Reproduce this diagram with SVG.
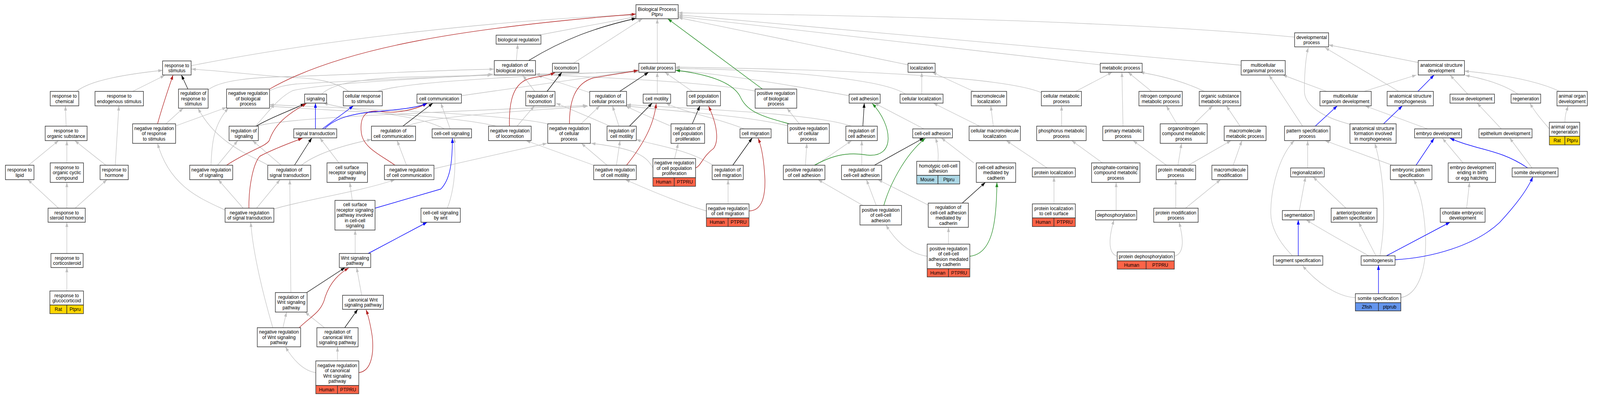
<svg xmlns="http://www.w3.org/2000/svg" width="4409" height="1019" viewBox="0 0 4409 1019">
<style>
.node rect{fill:#fff;stroke:#333;stroke-width:1.5}
.node rect.hu{fill:#ff6347}
.node rect.rat{fill:#ffd700}
.node rect.mo{fill:#add8e6}
.node rect.zf{fill:#6495ed}
text{font-family:"Liberation Sans",Arial,sans-serif;font-size:13px;fill:#000;text-anchor:middle}
.edges path{fill:none}
.g{stroke:#c0c0c0;stroke-width:1.3;marker-end:url(#ag)}
.k{stroke:#000;stroke-width:1.3;marker-end:url(#ak)}
.r{stroke:#b22222;stroke-width:1.4;marker-end:url(#ar)}
.gn{stroke:#228b22;stroke-width:1.4;marker-end:url(#agn)}
.b{stroke:#0000ff;stroke-width:1.4;marker-end:url(#ab)}
</style>
<defs>
<marker id="ag" viewBox="0 0 12 8" refX="12" refY="4" markerWidth="12" markerHeight="8" markerUnits="userSpaceOnUse" orient="auto"><path d="M0,0L12,4L0,8z" fill="#c0c0c0"/></marker>
<marker id="ak" viewBox="0 0 12 8" refX="12" refY="4" markerWidth="12" markerHeight="8" markerUnits="userSpaceOnUse" orient="auto"><path d="M0,0L12,4L0,8z" fill="#000"/></marker>
<marker id="ar" viewBox="0 0 12 8" refX="12" refY="4" markerWidth="12" markerHeight="8" markerUnits="userSpaceOnUse" orient="auto"><path d="M0,0L12,4L0,8z" fill="#b22222"/></marker>
<marker id="agn" viewBox="0 0 12 8" refX="12" refY="4" markerWidth="12" markerHeight="8" markerUnits="userSpaceOnUse" orient="auto"><path d="M0,0L12,4L0,8z" fill="#228b22"/></marker>
<marker id="ab" viewBox="0 0 12 8" refX="12" refY="4" markerWidth="12" markerHeight="8" markerUnits="userSpaceOnUse" orient="auto"><path d="M0,0L12,4L0,8z" fill="#0000ff"/></marker>
</defs>
<rect width="4409" height="1019" fill="#fff"/>
<g id="diagram" transform="scale(0.925,1)">
<g id="connectors" class="edges">
<path class="g" d="M212,234 C250,205 350,190 450,180"/>
<path class="g" d="M367,234 L456,193"/>
<path class="g" d="M183,323 L181,271"/>
<path class="g" d="M79,423 L162,360"/>
<path class="g" d="M185,417 L185,360"/>
<path class="g" d="M293,423 L207,360"/>
<path class="g" d="M319,423 L329,271"/>
<path class="g" d="M162,533 L77,460"/>
<path class="g" d="M185,533 L185,467"/>
<path class="g" d="M208,533 L296,460"/>
<path class="g" d="M185,649 L185,569"/>
<path class="g" d="M185,745 L185,685"/>
<path class="g" d="M530,168 C900,100 1400,50 1756,38"/>
<path class="g" d="M459,317 L507,277"/>
<path class="g" d="M487,322 L627,275"/>
<path class="g" d="M623,538 C560,510 470,480 436,367"/>
<path class="g" d="M576,230 C610,205 700,198 800,196 S1200,180 1367,177"/>
<path class="g" d="M965,234 C930,210 880,200 800,198 C700,192 600,180 530,177"/>
<path class="g" d="M746,232 C770,222 790,218 820,215 C1000,205 1250,197 1361,192"/>
<path class="g" d="M1520,318 C1400,290 900,275 746,268"/>
<path class="g" d="M1373,323 C1250,295 950,285 746,272"/>
<path class="g" d="M584,423 C586,370 590,320 632,277"/>
<path class="g" d="M707,323 C740,290 770,250 810,232 C900,212 1200,200 1364,190"/>
<path class="g" d="M742,423 C700,400 600,370 548,277"/>
<path class="g" d="M778,423 L699,360"/>
<path class="g" d="M602,423 L658,360"/>
<path class="g" d="M673,533 L604,460"/>
<path class="g" d="M710,533 L775,460"/>
<path class="g" d="M758,535 C850,510 1000,490 1093,460"/>
<path class="g" d="M755,839 C730,760 700,650 694,569"/>
<path class="g" d="M783,839 L793,799"/>
<path class="g" d="M805,749 L802,460"/>
<path class="g" d="M874,954 C840,950 810,920 790,888"/>
<path class="g" d="M934,924 L934,888"/>
<path class="g" d="M898,839 L844,799"/>
<path class="g" d="M1001,756 L987,685"/>
<path class="g" d="M983,649 L983,589"/>
<path class="g" d="M975,513 L968,467"/>
<path class="g" d="M1238,533 C1260,480 1262,420 1257,353"/>
<path class="g" d="M938,417 L885,353"/>
<path class="g" d="M1125,423 L1099,360"/>
<path class="g" d="M834,423 C880,390 960,370 1028,357"/>
<path class="g" d="M1201,432 C1350,400 1450,380 1514,367"/>
<path class="g" d="M1246,330 L1220,264"/>
<path class="g" d="M1230,330 C1150,290 1000,290 895,264"/>
<path class="g" d="M1277,245 L1768,180"/>
<path class="g" d="M1045,234 C1100,215 1300,200 1766,182"/>
<path class="g" d="M890,241 C920,215 980,205 1100,198 C1400,190 1600,186 1766,184"/>
<path class="g" d="M709,323 C800,300 1200,288 1625,270"/>
<path class="g" d="M1125,323 C1200,295 1450,285 1627,272"/>
<path class="g" d="M1480,234 L1447,193"/>
<path class="g" d="M1632,237 L1488,193"/>
<path class="g" d="M1713,323 L1695,271"/>
<path class="g" d="M1608,317 L1660,271"/>
<path class="g" d="M1431,323 L1479,271"/>
<path class="g" d="M1689,323 L1539,264"/>
<path class="g" d="M1643,423 L1456,360"/>
<path class="g" d="M1680,423 L1609,367"/>
<path class="g" d="M1706,423 L1716,360"/>
<path class="g" d="M1973,423 C1900,380 1800,370 1761,357"/>
<path class="g" d="M1807,430 C1790,400 1760,380 1636,367"/>
<path class="g" d="M1955,540 C1880,520 1780,480 1731,460"/>
<path class="g" d="M2060,330 C1980,300 1900,290 1843,264"/>
<path class="g" d="M1819,241 L1819,185"/>
<path class="g" d="M1916,234 L1840,185"/>
<path class="g" d="M1857,323 C1800,300 1760,285 1731,271"/>
<path class="g" d="M1867,406 L1877,367"/>
<path class="g" d="M2015,522 L2015,460"/>
<path class="g" d="M2090,233 C1950,210 1700,200 1482,190"/>
<path class="g" d="M2212,317 L2178,277"/>
<path class="g" d="M2180,322 C2050,293 1850,285 1734,271"/>
<path class="g" d="M2229,423 L2233,367"/>
<path class="g" d="M2258,423 L2357,360"/>
<path class="g" d="M2357,323 C2250,290 1950,280 1734,268"/>
<path class="g" d="M2350,245 C2200,220 2000,190 1869,180"/>
<path class="g" d="M2551,241 L2551,185"/>
<path class="g" d="M2506,241 C2450,205 2200,180 1869,175"/>
<path class="g" d="M2695,234 L2580,185"/>
<path class="g" d="M2749,323 L2742,271"/>
<path class="g" d="M2711,323 L2583,264"/>
<path class="g" d="M2557,330 L2420,264"/>
<path class="g" d="M2385,423 L2385,360"/>
<path class="g" d="M2596,413 C2598,390 2595,370 2589,353"/>
<path class="g" d="M2695,417 L2605,353"/>
<path class="g" d="M2388,526 L2264,460"/>
<path class="g" d="M2425,526 L2398,460"/>
<path class="g" d="M2569,525 L2430,460"/>
<path class="g" d="M2625,625 L2625,582"/>
<path class="g" d="M2566,656 C2520,650 2480,620 2452,576"/>
<path class="g" d="M2898,430 L2785,360"/>
<path class="g" d="M2917,522 L2917,453"/>
<path class="g" d="M2977,234 L3078,185"/>
<path class="g" d="M2882,237 C2800,205 2500,180 1869,172"/>
<path class="g" d="M3108,323 L3105,185"/>
<path class="g" d="M3187,234 L3122,185"/>
<path class="g" d="M3333,234 C3280,210 3220,195 3155,185"/>
<path class="g" d="M2938,323 L2938,271"/>
<path class="g" d="M3257,317 L3228,271"/>
<path class="g" d="M3305,317 L3356,271"/>
<path class="g" d="M3432,323 L3394,271"/>
<path class="g" d="M3051,417 L2966,360"/>
<path class="g" d="M3228,423 L3136,360"/>
<path class="g" d="M3260,423 L3270,367"/>
<path class="g" d="M3289,423 L3407,360"/>
<path class="g" d="M3413,423 L3437,360"/>
<path class="g" d="M3089,539 L3089,467"/>
<path class="g" d="M3254,533 L3254,460"/>
<path class="g" d="M3281,533 L3378,460"/>
<path class="g" d="M3092,656 C3070,650 3065,620 3083,563"/>
<path class="g" d="M3250,656 C3275,650 3278,620 3263,569"/>
<path class="g" d="M3605,323 L3512,192"/>
<path class="g" d="M3672,234 L3550,192"/>
<path class="g" d="M3775,234 L3920,192"/>
<path class="g" d="M3871,234 L3667,122"/>
<path class="g" d="M3925,160 L3677,115"/>
<path class="g" d="M3736,318 C3660,300 3610,270 3610,233 C3610,180 3615,140 3621,122"/>
<path class="g" d="M4062,241 L4013,192"/>
<path class="g" d="M4201,241 C4160,215 4100,200 4055,193"/>
<path class="g" d="M4317,234 C4250,205 4150,190 4053,182"/>
<path class="g" d="M4155,330 L4088,264"/>
<path class="g" d="M4288,330 C4270,310 4250,290 4234,264"/>
<path class="g" d="M4331,313 C4331,295 4335,285 4340,271"/>
<path class="g" d="M3951,330 L3778,271"/>
<path class="g" d="M3853,423 L3667,360"/>
<path class="g" d="M4049,417 L3992,354"/>
<path class="g" d="M4240,430 L4178,353"/>
<path class="g" d="M3619,430 L3619,360"/>
<path class="g" d="M3725,533 L3634,453"/>
<path class="g" d="M3596,539 L3613,453"/>
<path class="g" d="M3577,655 C3540,620 3515,580 3517,540 C3518,480 3540,400 3582,360"/>
<path class="g" d="M3788,655 C3740,630 3680,600 3615,563"/>
<path class="g" d="M3808,655 L3760,569"/>
<path class="g" d="M3819,655 C3830,600 3840,480 3805,367"/>
<path class="g" d="M3751,762 C3700,760 3640,720 3605,680"/>
<path class="g" d="M3877,762 C3920,755 3950,700 3945,600 C3940,520 3925,480 3912,460"/>
<path class="g" d="M4059,533 L4067,467"/>
<path class="g" d="M2513,166 L1877,45"/>
<path class="g" d="M3045,166 L1877,42"/>
<path class="g" d="M3435,167 L1877,38"/>
<path class="g" d="M3583,95 C3300,70 2800,45 1877,33"/>
<path class="g" d="M1490,90 L1760,43"/>
<path class="g" d="M1587,162 L1778,48"/>
<path class="g" d="M1819,162 L1819,48"/>
<path class="g" d="M1429,155 L1433,113"/>
<path class="k" d="M520,228 L502,192"/>
<path class="k" d="M709,323 C750,300 800,285 844,265"/>
<path class="k" d="M815,423 L863,353"/>
<path class="k" d="M1463,155 C1560,100 1650,70 1760,47"/>
<path class="k" d="M1514,234 L1555,185"/>
<path class="k" d="M1715,234 L1795,185"/>
<path class="k" d="M1115,323 L1198,264"/>
<path class="k" d="M1742,323 L1805,264"/>
<path class="k" d="M1916,317 L1937,271"/>
<path class="k" d="M2028,423 L2082,353"/>
<path class="k" d="M2388,323 L2392,264"/>
<path class="k" d="M2420,423 L2557,353"/>
<path class="k" d="M2663,520 L2727,467"/>
<path class="k" d="M849,749 L955,685"/>
<path class="k" d="M954,839 L990,792"/>
<path class="r" d="M436,317 C450,270 465,230 479,192"/>
<path class="r" d="M746,228 C950,120 1300,70 1760,36"/>
<path class="r" d="M627,423 C690,385 735,375 745,360 C760,320 790,295 848,265"/>
<path class="r" d="M689,533 C688,480 700,420 719,400 C750,385 790,370 837,354"/>
<path class="r" d="M1410,323 C1408,260 1420,210 1470,200 C1500,195 1520,192 1536,186"/>
<path class="r" d="M1576,317 C1576,260 1590,215 1640,200 C1700,190 1740,185 1766,180"/>
<path class="r" d="M1093,423 C1060,400 1005,380 1000,340 C995,300 1010,280 1050,285 C1100,292 1150,280 1182,265"/>
<path class="r" d="M1734,423 C1780,370 1810,320 1816,265"/>
<path class="r" d="M1925,430 C1940,425 1945,400 1975,380 C1990,360 1985,320 1961,272"/>
<path class="r" d="M2073,540 C2110,540 2118,500 2117,460 C2115,420 2110,380 2098,354"/>
<path class="r" d="M828,839 C860,810 890,800 900,760 C915,720 940,700 965,686"/>
<path class="r" d="M993,954 C1030,950 1035,900 1030,860 C1025,830 1020,810 1013,793"/>
<path class="gn" d="M2110,228 L1848,48"/>
<path class="gn" d="M2184,317 C2120,300 2070,290 2050,250 C2030,210 1960,190 1870,180"/>
<path class="gn" d="M2254,423 C2300,400 2340,388 2400,397 C2480,405 2470,320 2414,265"/>
<path class="gn" d="M2446,526 C2460,480 2500,400 2561,354"/>
<path class="gn" d="M2684,656 C2750,650 2758,560 2759,467"/>
<path class="b" d="M873,330 L873,264"/>
<path class="b" d="M892,330 L978,271"/>
<path class="b" d="M898,330 C930,300 980,290 1050,285 C1110,280 1160,275 1182,264"/>
<path class="b" d="M1038,533 L1220,484 C1245,460 1252,420 1252,354"/>
<path class="b" d="M1019,649 L1182,569"/>
<path class="b" d="M3640,323 L3701,271"/>
<path class="b" d="M3924,234 L3969,192"/>
<path class="b" d="M3829,317 L3881,271"/>
<path class="b" d="M3919,423 L3969,354"/>
<path class="b" d="M4228,430 C4180,400 4140,390 4090,378 C4060,370 4040,365 4013,354"/>
<path class="b" d="M3861,665 C3960,660 4080,630 4150,570 C4200,520 4230,480 4242,453"/>
<path class="b" d="M3837,655 L4013,569"/>
<path class="b" d="M3815,752 L3815,679"/>
<path class="b" d="M3593,655 L3593,563"/>
</g>
<g id="n-bio" class="node"><rect x="1760" y="12" width="117" height="36"/><text x="1818.5" y="27.75">Biological Process</text><text x="1818.5" y="41.25">Ptpru</text></g>
<g id="n-bioreg" class="node"><rect x="1373" y="90" width="124" height="23"/><text x="1435" y="106">biological regulation</text></g>
<g id="n-devproc" class="node"><rect x="3583" y="84" width="94" height="36"/><text x="3630" y="99.75">developmental</text><text x="3630" y="113.25">process</text></g>
<g id="n-stim" class="node"><rect x="450" y="156" width="79" height="36"/><text x="489.5" y="171.75">response to</text><text x="489.5" y="185.25">stimulus</text></g>
<g id="n-regbio" class="node"><rect x="1368" y="155" width="114" height="37"/><text x="1425" y="171.25">regulation of</text><text x="1425" y="184.75">biological process</text></g>
<g id="n-loco" class="node"><rect x="1529" y="162" width="73" height="23"/><text x="1565.5" y="178">locomotion</text></g>
<g id="n-cellproc" class="node"><rect x="1768" y="162" width="101" height="23"/><text x="1818.5" y="178">cellular process</text></g>
<g id="n-loc" class="node"><rect x="2513" y="162" width="75" height="23"/><text x="2550.5" y="178">localization</text></g>
<g id="n-met" class="node"><rect x="3045" y="162" width="116" height="23"/><text x="3103" y="178">metabolic process</text></g>
<g id="n-multiorgproc" class="node"><rect x="3435" y="155" width="122" height="37"/><text x="3496" y="171.25">multicellular</text><text x="3496" y="184.75">organismal process</text></g>
<g id="n-anatdev" class="node"><rect x="3925" y="155" width="128" height="37"/><text x="3989" y="171.25">anatomical structure</text><text x="3989" y="184.75">development</text></g>
<g id="n-chem" class="node"><rect x="139" y="234" width="79" height="37"/><text x="178.5" y="250.25">response to</text><text x="178.5" y="263.75">chemical</text></g>
<g id="n-endo" class="node"><rect x="263" y="234" width="134" height="37"/><text x="330" y="250.25">response to</text><text x="330" y="263.75">endogenous stimulus</text></g>
<g id="n-regresp" class="node"><rect x="494" y="228" width="82" height="49"/><text x="535" y="243.5">regulation of</text><text x="535" y="257">response to</text><text x="535" y="270.5">stimulus</text></g>
<g id="n-negregbio" class="node"><rect x="627" y="228" width="119" height="49"/><text x="686.5" y="243.5">negative regulation</text><text x="686.5" y="257">of biological</text><text x="686.5" y="270.5">process</text></g>
<g id="n-signaling" class="node"><rect x="843" y="241" width="61" height="23"/><text x="873.5" y="257">signaling</text></g>
<g id="n-cellresp" class="node"><rect x="950" y="234" width="108" height="37"/><text x="1004" y="250.25">cellular response</text><text x="1004" y="263.75">to stimulus</text></g>
<g id="n-cellcomm" class="node"><rect x="1154" y="241" width="123" height="23"/><text x="1215.5" y="257">cell communication</text></g>
<g id="n-regloco" class="node"><rect x="1455" y="234" width="81" height="37"/><text x="1495.5" y="250.25">regulation of</text><text x="1495.5" y="263.75">locomotion</text></g>
<g id="n-regcellproc" class="node"><rect x="1632" y="234" width="102" height="37"/><text x="1683" y="250.25">regulation of</text><text x="1683" y="263.75">cellular process</text></g>
<g id="n-cellmot" class="node"><rect x="1780" y="241" width="76" height="23"/><text x="1818" y="257">cell motility</text></g>
<g id="n-prolif" class="node"><rect x="1901" y="234" width="93" height="37"/><text x="1947.5" y="250.25">cell population</text><text x="1947.5" y="263.75">proliferation</text></g>
<g id="n-posregbio" class="node"><rect x="2090" y="228" width="115" height="49"/><text x="2147.5" y="243.5">positive regulation</text><text x="2147.5" y="257">of biological</text><text x="2147.5" y="270.5">process</text></g>
<g id="n-celladh" class="node"><rect x="2350" y="241" width="86" height="23"/><text x="2393" y="257">cell adhesion</text></g>
<g id="n-celloc" class="node"><rect x="2491" y="241" width="119" height="23"/><text x="2550.5" y="257">cellular localization</text></g>
<g id="n-macroloc" class="node"><rect x="2688" y="234" width="98" height="37"/><text x="2737" y="250.25">macromolecule</text><text x="2737" y="263.75">localization</text></g>
<g id="n-cellmet" class="node"><rect x="2882" y="234" width="111" height="37"/><text x="2937.5" y="250.25">cellular metabolic</text><text x="2937.5" y="263.75">process</text></g>
<g id="n-nitrogen" class="node"><rect x="3152" y="234" width="120" height="37"/><text x="3212" y="250.25">nitrogen compound</text><text x="3212" y="263.75">metabolic process</text></g>
<g id="n-orgsubmet" class="node"><rect x="3319" y="234" width="115" height="37"/><text x="3376.5" y="250.25">organic substance</text><text x="3376.5" y="263.75">metabolic process</text></g>
<g id="n-multidev" class="node"><rect x="3653" y="234" width="142" height="37"/><text x="3724" y="250.25">multicellular</text><text x="3724" y="263.75">organism development</text></g>
<g id="n-anatmorph" class="node"><rect x="3839" y="234" width="128" height="37"/><text x="3903" y="250.25">anatomical structure</text><text x="3903" y="263.75">morphogenesis</text></g>
<g id="n-tissue" class="node"><rect x="4013" y="241" width="123" height="23"/><text x="4074.5" y="257">tissue development</text></g>
<g id="n-regen" class="node"><rect x="4182" y="241" width="82" height="23"/><text x="4223" y="257">regeneration</text></g>
<g id="n-animaldev" class="node"><rect x="4309" y="234" width="84" height="37"/><text x="4351" y="250.25">animal organ</text><text x="4351" y="263.75">development</text></g>
<g id="n-orgsub" class="node"><rect x="125" y="323" width="116" height="37"/><text x="183" y="339.25">response to</text><text x="183" y="352.75">organic substance</text></g>
<g id="n-negregresp" class="node"><rect x="367" y="317" width="119" height="50"/><text x="426.5" y="333">negative regulation</text><text x="426.5" y="346.5">of response</text><text x="426.5" y="360">to stimulus</text></g>
<g id="n-regsig" class="node"><rect x="634" y="323" width="81" height="37"/><text x="674.5" y="339.25">regulation of</text><text x="674.5" y="352.75">signaling</text></g>
<g id="n-sigtrans" class="node"><rect x="813" y="330" width="119" height="23"/><text x="872.5" y="346">signal transduction</text></g>
<g id="n-regcellcomm" class="node"><rect x="1028" y="323" width="122" height="37"/><text x="1089" y="339.25">regulation of</text><text x="1089" y="352.75">cell communication</text></g>
<g id="n-ccsig" class="node"><rect x="1196" y="330" width="109" height="23"/><text x="1250.5" y="346">cell-cell signaling</text></g>
<g id="n-negregloco" class="node"><rect x="1352" y="323" width="118" height="37"/><text x="1411" y="339.25">negative regulation</text><text x="1411" y="352.75">of locomotion</text></g>
<g id="n-negregcell" class="node"><rect x="1516" y="317" width="118" height="50"/><text x="1575" y="333">negative regulation</text><text x="1575" y="346.5">of cellular</text><text x="1575" y="360">process</text></g>
<g id="n-regcellmot" class="node"><rect x="1680" y="323" width="81" height="37"/><text x="1720.5" y="339.25">regulation of</text><text x="1720.5" y="352.75">cell motility</text></g>
<g id="n-regprolif" class="node"><rect x="1857" y="317" width="93" height="50"/><text x="1903.5" y="333">regulation of</text><text x="1903.5" y="346.5">cell population</text><text x="1903.5" y="360">proliferation</text></g>
<g id="n-cellmig" class="node"><rect x="2048" y="330" width="86" height="23"/><text x="2091" y="346">cell migration</text></g>
<g id="n-posregcell" class="node"><rect x="2180" y="317" width="115" height="50"/><text x="2237.5" y="333">positive regulation</text><text x="2237.5" y="346.5">of cellular</text><text x="2237.5" y="360">process</text></g>
<g id="n-regadh" class="node"><rect x="2341" y="323" width="87" height="37"/><text x="2384.5" y="339.25">regulation of</text><text x="2384.5" y="352.75">cell adhesion</text></g>
<g id="n-ccadh" class="node"><rect x="2526" y="330" width="110" height="23"/><text x="2581" y="346">cell-cell adhesion</text></g>
<g id="n-cellmacroloc" class="node"><rect x="2682" y="323" width="142" height="37"/><text x="2753" y="339.25">cellular macromolecule</text><text x="2753" y="352.75">localization</text></g>
<g id="n-phosphorus" class="node"><rect x="2869" y="323" width="137" height="37"/><text x="2937.5" y="339.25">phosphorus metabolic</text><text x="2937.5" y="352.75">process</text></g>
<g id="n-primary" class="node"><rect x="3052" y="323" width="113" height="37"/><text x="3108.5" y="339.25">primary metabolic</text><text x="3108.5" y="352.75">process</text></g>
<g id="n-organonit" class="node"><rect x="3211" y="317" width="130" height="50"/><text x="3276" y="333">organonitrogen</text><text x="3276" y="346.5">compound metabolic</text><text x="3276" y="360">process</text></g>
<g id="n-macromet" class="node"><rect x="3388" y="323" width="116" height="37"/><text x="3446" y="339.25">macromolecule</text><text x="3446" y="352.75">metabolic process</text></g>
<g id="n-patspec" class="node"><rect x="3555" y="323" width="126" height="37"/><text x="3618" y="339.25">pattern specification</text><text x="3618" y="352.75">process</text></g>
<g id="n-anatform" class="node"><rect x="3736" y="317" width="128" height="50"/><text x="3800" y="333">anatomical structure</text><text x="3800" y="346.5">formation involved</text><text x="3800" y="360">in morphogenesis</text></g>
<g id="n-embdev" class="node"><rect x="3915" y="330" width="130" height="23"/><text x="3980" y="346">embryo development</text></g>
<g id="n-epith" class="node"><rect x="4093" y="330" width="147" height="23"/><text x="4166.5" y="346">epithelium development</text></g>
<g id="n-animalregen" class="node"><rect x="4288" y="313" width="84" height="36"/><text x="4330" y="328.75">animal organ</text><text x="4330" y="342.25">regeneration</text><rect class="rat" x="4288" y="349" width="43" height="22"/><rect class="rat" x="4331" y="349" width="41" height="22"/><text x="4309.5" y="364.5">Rat</text><text x="4351.5" y="364.5">Ptpru</text></g>
<g id="n-lipid" class="node"><rect x="15" y="423" width="79" height="37"/><text x="54.5" y="439.25">response to</text><text x="54.5" y="452.75">lipid</text></g>
<g id="n-cyclic" class="node"><rect x="139" y="417" width="92" height="50"/><text x="185" y="433">response to</text><text x="185" y="446.5">organic cyclic</text><text x="185" y="460">compound</text></g>
<g id="n-hormone" class="node"><rect x="277" y="423" width="78" height="37"/><text x="316" y="439.25">response to</text><text x="316" y="452.75">hormone</text></g>
<g id="n-negregsig" class="node"><rect x="525" y="423" width="119" height="37"/><text x="584.5" y="439.25">negative regulation</text><text x="584.5" y="452.75">of signaling</text></g>
<g id="n-regsigtrans" class="node"><rect x="741" y="423" width="119" height="37"/><text x="800.5" y="439.25">regulation of</text><text x="800.5" y="452.75">signal transduction</text></g>
<g id="n-csrsp" class="node"><rect x="905" y="417" width="112" height="50"/><text x="961" y="433">cell surface</text><text x="961" y="446.5">receptor signaling</text><text x="961" y="460">pathway</text></g>
<g id="n-negregcellcomm" class="node"><rect x="1064" y="423" width="137" height="37"/><text x="1132.5" y="439.25">negative regulation</text><text x="1132.5" y="452.75">of cell communication</text></g>
<g id="n-negregmot" class="node"><rect x="1643" y="423" width="118" height="37"/><text x="1702" y="439.25">negative regulation</text><text x="1702" y="452.75">of cell motility</text></g>
<g id="n-negregprolif" class="node"><rect x="1807" y="406" width="118" height="49"/><text x="1866" y="421.5">negative regulation</text><text x="1866" y="435">of cell population</text><text x="1866" y="448.5">proliferation</text><rect class="hu" x="1807" y="455" width="59" height="22"/><rect class="hu" x="1866" y="455" width="59" height="22"/><text x="1836.5" y="470.5">Human</text><text x="1895.5" y="470.5">PTPRU</text></g>
<g id="n-regcellmig" class="node"><rect x="1971" y="423" width="86" height="37"/><text x="2014" y="439.25">regulation of</text><text x="2014" y="452.75">cell migration</text></g>
<g id="n-posregadh" class="node"><rect x="2168" y="423" width="115" height="37"/><text x="2225.5" y="439.25">positive regulation</text><text x="2225.5" y="452.75">of cell adhesion</text></g>
<g id="n-regccadh" class="node"><rect x="2329" y="423" width="111" height="37"/><text x="2384.5" y="439.25">regulation of</text><text x="2384.5" y="452.75">cell-cell adhesion</text></g>
<g id="n-homotypic" class="node"><rect x="2537" y="413" width="119" height="36"/><text x="2596.5" y="428.75">homotypic cell-cell</text><text x="2596.5" y="442.25">adhesion</text><rect class="mo" x="2537" y="449" width="59" height="22"/><rect class="mo" x="2596" y="449" width="60" height="22"/><text x="2566.5" y="464.5">Mouse</text><text x="2626" y="464.5">Ptpru</text></g>
<g id="n-cadherin" class="node"><rect x="2702" y="417" width="109" height="50"/><text x="2756.5" y="433">cell-cell adhesion</text><text x="2756.5" y="446.5">mediated by</text><text x="2756.5" y="460">cadherin</text></g>
<g id="n-protloc" class="node"><rect x="2857" y="430" width="119" height="23"/><text x="2916.5" y="446">protein localization</text></g>
<g id="n-phosphate" class="node"><rect x="3021" y="417" width="134" height="50"/><text x="3088" y="433">phosphate-containing</text><text x="3088" y="446.5">compound metabolic</text><text x="3088" y="460">process</text></g>
<g id="n-protmet" class="node"><rect x="3200" y="423" width="109" height="37"/><text x="3254.5" y="439.25">protein metabolic</text><text x="3254.5" y="452.75">process</text></g>
<g id="n-macromod" class="node"><rect x="3354" y="423" width="99" height="37"/><text x="3403.5" y="439.25">macromolecule</text><text x="3403.5" y="452.75">modification</text></g>
<g id="n-regional" class="node"><rect x="3572" y="430" width="93" height="23"/><text x="3618.5" y="446">regionalization</text></g>
<g id="n-embpat" class="node"><rect x="3848" y="423" width="115" height="37"/><text x="3905.5" y="439.25">embryonic pattern</text><text x="3905.5" y="452.75">specification</text></g>
<g id="n-embbirth" class="node"><rect x="4008" y="417" width="131" height="50"/><text x="4073.5" y="433">embryo development</text><text x="4073.5" y="446.5">ending in birth</text><text x="4073.5" y="460">or egg hatching</text></g>
<g id="n-somdev" class="node"><rect x="4185" y="430" width="127" height="23"/><text x="4248.5" y="446">somite development</text></g>
<g id="n-steroid" class="node"><rect x="133" y="533" width="103" height="36"/><text x="184.5" y="548.75">response to</text><text x="184.5" y="562.25">steroid hormone</text></g>
<g id="n-negregsigtrans" class="node"><rect x="623" y="533" width="135" height="36"/><text x="690.5" y="548.75">negative regulation</text><text x="690.5" y="562.25">of signal transduction</text></g>
<g id="n-csrspcc" class="node"><rect x="927" y="513" width="111" height="76"/><text x="982.5" y="528.5">cell surface</text><text x="982.5" y="542">receptor signaling</text><text x="982.5" y="555.5">pathway involved</text><text x="982.5" y="569">in cell-cell</text><text x="982.5" y="582.5">signaling</text></g>
<g id="n-ccwnt" class="node"><rect x="1165" y="533" width="109" height="36"/><text x="1219.5" y="548.75">cell-cell signaling</text><text x="1219.5" y="562.25">by wnt</text></g>
<g id="n-negregmig" class="node"><rect x="1955" y="522" width="118" height="36"/><text x="2014" y="537.75">negative regulation</text><text x="2014" y="551.25">of cell migration</text><rect class="hu" x="1955" y="558" width="60" height="22"/><rect class="hu" x="2015" y="558" width="58" height="22"/><text x="1985" y="573.5">Human</text><text x="2044" y="573.5">PTPRU</text></g>
<g id="n-posregccadh" class="node"><rect x="2380" y="526" width="115" height="50"/><text x="2437.5" y="542">positive regulation</text><text x="2437.5" y="555.5">of cell-cell</text><text x="2437.5" y="569">adhesion</text></g>
<g id="n-regcadh" class="node"><rect x="2569" y="520" width="111" height="62"/><text x="2624.5" y="535.25">regulation of</text><text x="2624.5" y="548.75">cell-cell adhesion</text><text x="2624.5" y="562.25">mediated by</text><text x="2624.5" y="575.75">cadherin</text></g>
<g id="n-protloccs" class="node"><rect x="2857" y="522" width="119" height="36"/><text x="2916.5" y="537.75">protein localization</text><text x="2916.5" y="551.25">to cell surface</text><rect class="hu" x="2857" y="558" width="60" height="22"/><rect class="hu" x="2917" y="558" width="59" height="22"/><text x="2887" y="573.5">Human</text><text x="2946.5" y="573.5">PTPRU</text></g>
<g id="n-dephos" class="node"><rect x="3032" y="539" width="114" height="24"/><text x="3089" y="555.5">dephosphorylation</text></g>
<g id="n-protmod" class="node"><rect x="3193" y="533" width="123" height="36"/><text x="3254.5" y="548.75">protein modification</text><text x="3254.5" y="562.25">process</text></g>
<g id="n-segmentation" class="node"><rect x="3549" y="539" width="88" height="24"/><text x="3593" y="555.5">segmentation</text></g>
<g id="n-ap" class="node"><rect x="3684" y="533" width="127" height="36"/><text x="3747.5" y="548.75">anterior/posterior</text><text x="3747.5" y="562.25">pattern specification</text></g>
<g id="n-chordate" class="node"><rect x="3986" y="533" width="124" height="36"/><text x="4048" y="548.75">chordate embryonic</text><text x="4048" y="562.25">development</text></g>
<g id="n-cortico" class="node"><rect x="141" y="649" width="89" height="36"/><text x="185.5" y="664.75">response to</text><text x="185.5" y="678.25">corticosteroid</text></g>
<g id="n-wnt" class="node"><rect x="939" y="649" width="87" height="36"/><text x="982.5" y="664.75">Wnt signaling</text><text x="982.5" y="678.25">pathway</text></g>
<g id="n-posregcadh" class="node"><rect x="2566" y="625" width="118" height="63"/><text x="2625" y="640.75">positive regulation</text><text x="2625" y="654.25">of cell-cell</text><text x="2625" y="667.75">adhesion mediated</text><text x="2625" y="681.25">by cadherin</text><rect class="hu" x="2566" y="688" width="59" height="21"/><rect class="hu" x="2625" y="688" width="59" height="21"/><text x="2595.5" y="703">Human</text><text x="2654.5" y="703">PTPRU</text></g>
<g id="n-protdephos" class="node"><rect x="3092" y="645" width="158" height="23"/><text x="3171" y="661">protein dephosphorylation</text><rect class="hu" x="3092" y="668" width="80" height="21"/><rect class="hu" x="3172" y="668" width="78" height="21"/><text x="3132" y="683">Human</text><text x="3211" y="683">PTPRU</text></g>
<g id="n-segspec" class="node"><rect x="3524" y="655" width="137" height="24"/><text x="3592.5" y="671.5">segment specification</text></g>
<g id="n-somito" class="node"><rect x="3767" y="655" width="94" height="24"/><text x="3814" y="671.5">somitogenesis</text></g>
<g id="n-gluco" class="node"><rect x="138" y="745" width="93" height="36"/><text x="184.5" y="760.75">response to</text><text x="184.5" y="774.25">glucocorticoid</text><rect class="rat" x="138" y="781" width="47" height="22"/><rect class="rat" x="185" y="781" width="46" height="22"/><text x="161.5" y="796.5">Rat</text><text x="208" y="796.5">Ptpru</text></g>
<g id="n-regwnt" class="node"><rect x="762" y="749" width="88" height="50"/><text x="806" y="765">regulation of</text><text x="806" y="778.5">Wnt signaling</text><text x="806" y="792">pathway</text></g>
<g id="n-canon" class="node"><rect x="948" y="756" width="113" height="36"/><text x="1004.5" y="771.75">canonical Wnt</text><text x="1004.5" y="785.25">signaling pathway</text></g>
<g id="n-somspec" class="node"><rect x="3751" y="752" width="126" height="23"/><text x="3814" y="768">somite specification</text><rect class="zf" x="3751" y="775" width="64" height="21"/><rect class="zf" x="3815" y="775" width="62" height="21"/><text x="3783" y="790">Zfish</text><text x="3846" y="790">ptprub</text></g>
<g id="n-negregwnt" class="node"><rect x="712" y="839" width="120" height="49"/><text x="772" y="854.5">negative regulation</text><text x="772" y="868">of Wnt signaling</text><text x="772" y="881.5">pathway</text></g>
<g id="n-regcanon" class="node"><rect x="877" y="839" width="114" height="49"/><text x="934" y="854.5">regulation of</text><text x="934" y="868">canonical Wnt</text><text x="934" y="881.5">signaling pathway</text></g>
<g id="n-negregcanon" class="node"><rect x="874" y="924" width="119" height="63"/><text x="933.5" y="939.75">negative regulation</text><text x="933.5" y="953.25">of canonical</text><text x="933.5" y="966.75">Wnt signaling</text><text x="933.5" y="980.25">pathway</text><rect class="hu" x="874" y="987" width="60" height="21"/><rect class="hu" x="934" y="987" width="59" height="21"/><text x="904" y="1002">Human</text><text x="963.5" y="1002">PTPRU</text></g>
</g>
</svg>
